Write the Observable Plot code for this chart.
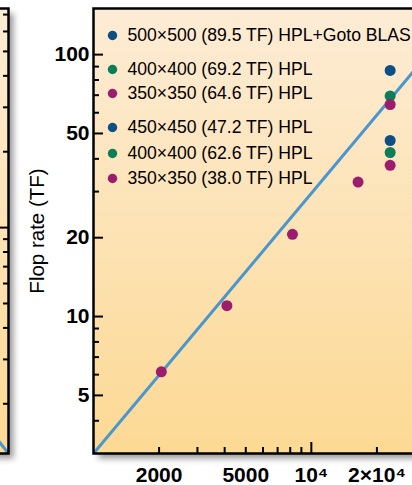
<!DOCTYPE html>
<html><head><meta charset="utf-8">
<script src="https://cdn.jsdelivr.net/npm/d3@7"></script>
<script src="https://cdn.jsdelivr.net/npm/@observablehq/plot@0.6"></script>
<style>
html,body{margin:0;padding:0;background:#fff;}
#wrap{position:relative;width:412px;height:485px;overflow:hidden;}
#wrap svg{position:absolute;top:0;max-width:none;}
</style></head><body><div id="wrap"></div>
<script>
// ---------- data ----------
const scalingProcs = [2048, 4096, 8192, 16384];
const scalingTF = [6.15, 11.0, 20.6, 32.6];
const fullProcs = 23000;
const runLabels = [
  "500×500 (89.5 TF) HPL+Goto BLAS",
  "400×400 (69.2 TF) HPL",
  "350×350 (64.6 TF) HPL",
  "450×450 (47.2 TF) HPL",
  "400×400 (62.6 TF) HPL",
  "350×350 (38.0 TF) HPL"
];
const runTF = [87, 69.5, 64.5, 47, 42.3, 37.8];
const runGroup = ["blue", "green", "magenta", "blue", "green", "magenta"];
const idealProcs = [1000, 30000];
const idealTF = [3.0, 88];
const yTicksMajor = [5, 10, 20, 50, 100];
const yTicksMinor = [4, 6, 7, 8, 9, 30, 40, 60, 70, 80, 90];
const xTickValues = [2000, 5000, 10000, 20000];
const xTickText = ["2000", "5000", "10⁴", "2×10⁴"];
const xTicksMinor = [2000, 3000, 4000, 5000, 6000, 7000, 8000, 9000, 20000, 30000];
const xTicksMajor = [10000];
const yLabel = "Flop rate (TF)";
// neighbouring (cropped) panel on the left
const leftTicksMajor = [10];
const leftTicksMinor = [2, 3, 4, 5, 6, 7, 8, 9, 20, 30, 40, 50, 60, 70];
const leftLineX = [0.8, 1.0];
const leftLineY = [1.63, 1.27];

// ---------- style ----------
const FONT = '"Liberation Sans", Arial, Helvetica, sans-serif';
const COLORS = {blue: "#0b4f86", green: "#0b7d58", magenta: "#9c1c6e"};
const LINE = "#4a97cf";
const legendDy = [27, 61, 85, 119, 145, 170];

function addDefs(svg, id) {
  const s = d3.select(svg);
  const defs = s.insert("defs", ":first-child");
  const g = defs.append("linearGradient").attr("id", id).attr("x1", 0).attr("y1", 0).attr("x2", 0).attr("y2", 1);
  g.append("stop").attr("offset", "0%").attr("stop-color", "#fdecd5");
  g.append("stop").attr("offset", "100%").attr("stop-color", "#fcd994");
  const f = defs.append("filter").attr("id", id + "sh").attr("x", "-20%").attr("y", "-20%").attr("width", "140%").attr("height", "140%");
  f.append("feDropShadow").attr("dx", 5).attr("dy", 5).attr("stdDeviation", 3)
    .attr("flood-color", "#000").attr("flood-opacity", 0.4);
  s.select('[aria-label="frame"]').attr("filter", `url(#${id}sh)`);
}

const idealRows = idealProcs.map((x, i) => ({x, y: idealTF[i]}));
const scalingRows = scalingProcs.map((x, i) => ({x, y: scalingTF[i]}));
const runRows = runTF.map((y, i) => ({x: fullProcs, y, c: COLORS[runGroup[i]]}));

const legendMarks = runLabels.flatMap((lab, i) => [
  Plot.dot([lab], {frameAnchor: "top-left", dx: 19, dy: legendDy[i], r: 4.7, fill: COLORS[runGroup[i]]}),
  Plot.text([lab], {frameAnchor: "top-left", dx: 34, dy: legendDy[i], text: d => d, textAnchor: "start", lineAnchor: "middle", fontSize: 17.6, fill: "black"})
]);

const blank = () => "";

const main = Plot.plot({
  width: 442, height: 485,
  marginLeft: 93, marginRight: 0, marginTop: 8, marginBottom: 32,
  style: {fontFamily: FONT, fontSize: "20px", color: "black", background: "transparent", maxWidth: "none", left: "0px"},
  x: {type: "log", domain: [1000, 40000]},
  y: {type: "log", domain: [3, 150]},
  color: {type: "identity"},
  marks: [
    Plot.frame({fill: "url(#bgMain)", stroke: "none"}),
    Plot.line(idealRows, {x: "x", y: "y", stroke: LINE, strokeWidth: 3, clip: true}),
    Plot.dot(scalingRows, {x: "x", y: "y", r: 5.5, fill: COLORS.magenta}),
    Plot.dot(runRows, {x: "x", y: "y", r: 5.5, fill: "c"}),
    ...legendMarks,
    Plot.axisY({ticks: yTicksMajor, tickSize: -10, tickFormat: blank, strokeWidth: 2, label: null}),
    Plot.axisY({ticks: yTicksMinor, tickSize: -6, tickFormat: blank, strokeWidth: 2, label: null}),
    Plot.axisY({ticks: yTicksMajor, tickSize: 0, tickPadding: 4, tickFormat: d3.format("d"), fontWeight: "bold", fontSize: 21, label: null}),
    Plot.axisX({ticks: xTicksMajor, tickSize: -11, tickFormat: blank, strokeWidth: 2, label: null}),
    Plot.axisX({ticks: xTicksMinor, tickSize: -6, tickFormat: blank, strokeWidth: 2, label: null}),
    Plot.axisX({ticks: xTickValues, tickSize: 0, tickPadding: 14, tickFormat: d => xTickText[xTickValues.indexOf(d)], fontWeight: "bold", fontSize: 21, label: null}),
    Plot.text([yLabel], {frameAnchor: "left", dx: -56, rotate: -90, text: d => d, textAnchor: "middle", lineAnchor: "middle", fontSize: 20.5, fill: "black"}),
    Plot.frame({stroke: "black", strokeWidth: 2.5})
  ]
});
addDefs(main, "bgMain");

const left = Plot.plot({
  width: 160, height: 485,
  marginLeft: 0, marginRight: 52, marginTop: 8, marginBottom: 32,
  style: {fontFamily: FONT, fontSize: "20px", color: "black", background: "transparent", maxWidth: "none", left: "-100px"},
  x: {domain: [0, 1], axis: null},
  y: {type: "log", domain: [1.27, 74]},
  marks: [
    Plot.frame({fill: "url(#bgLeft)", stroke: "none"}),
    Plot.line(leftLineX.map((x, i) => ({x, y: leftLineY[i]})), {x: "x", y: "y", stroke: LINE, strokeWidth: 3, clip: true}),
    Plot.axisY({anchor: "right", ticks: leftTicksMajor, tickSize: -9, tickFormat: blank, strokeWidth: 2, label: null}),
    Plot.axisY({anchor: "right", ticks: leftTicksMinor, tickSize: -6, tickFormat: blank, strokeWidth: 2, label: null}),
    Plot.frame({stroke: "black", strokeWidth: 2.5})
  ]
});
addDefs(left, "bgLeft");

const wrap = document.getElementById("wrap");
wrap.appendChild(left);
wrap.appendChild(main);
</script></body></html>
